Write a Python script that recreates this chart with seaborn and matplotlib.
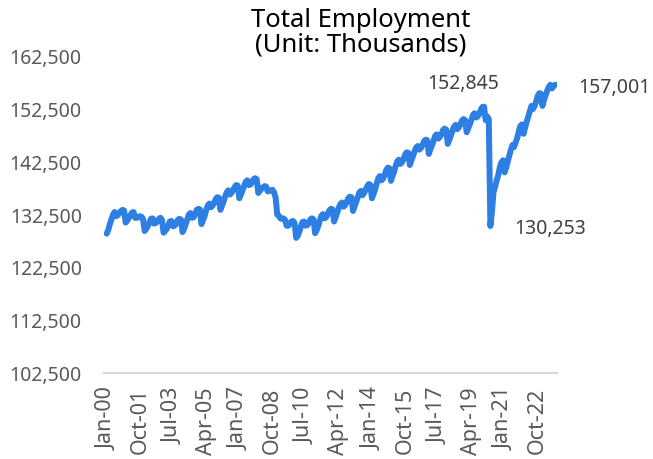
import pandas as pd
import seaborn as sns
from matplotlib import pyplot as plt

# Total nonfarm employment, not seasonally adjusted (thousands), Jan 2000 - Sep 2023
emp_2000 = [128800, 129500, 130600, 131500, 132400, 132900, 132100, 132300, 132700, 133100, 133300, 133200]
emp_2001 = [130900, 131300, 131800, 132300, 132800, 132900, 131800, 131800, 131900, 132100, 132000, 131600]
emp_2002 = [129300, 129700, 130200, 130900, 131600, 131700, 130700, 130800, 131100, 131600, 131800, 131400]
emp_2003 = [129000, 129300, 129700, 130400, 131100, 131200, 130200, 130300, 130700, 131400, 131600, 131500]
emp_2004 = [129100, 129700, 130600, 131500, 132400, 132700, 131800, 131900, 132500, 133300, 133500, 133400]
emp_2005 = [130600, 131400, 132100, 133300, 134100, 134500, 133800, 134100, 134600, 135300, 135700, 135600]
emp_2006 = [133300, 134100, 134900, 135800, 136600, 137000, 136200, 136500, 137000, 137600, 138000, 137900]
emp_2007 = [135500, 136200, 137000, 137800, 138600, 138900, 138000, 138100, 138500, 139100, 139300, 139100]
emp_2008 = [136500, 136900, 137300, 137600, 137800, 137700, 136800, 136900, 137000, 137100, 136600, 135600]
emp_2009 = [132400, 132200, 131700, 131600, 131700, 131400, 130300, 130300, 130600, 131100, 131200, 130800]
emp_2010 = [128000, 128400, 129200, 130200, 131000, 131100, 130300, 130400, 130800, 131500, 131700, 131500]
emp_2011 = [128900, 129500, 130300, 131300, 132200, 132500, 131700, 131900, 132500, 133200, 133500, 133400]
emp_2012 = [131100, 131900, 132800, 133700, 134400, 134700, 133900, 134200, 134800, 135500, 135800, 135700]
emp_2013 = [133100, 134000, 134800, 135700, 136600, 136900, 136100, 136500, 137100, 137800, 138200, 138000]
emp_2014 = [135500, 136300, 137200, 138300, 139300, 139700, 138900, 139200, 139900, 140800, 141300, 141200]
emp_2015 = [138800, 139700, 140500, 141600, 142500, 142800, 142000, 142300, 142900, 143800, 144200, 144100]
emp_2016 = [141800, 142700, 143500, 144400, 145100, 145400, 144700, 145000, 145600, 146300, 146600, 146500]
emp_2017 = [143900, 144800, 145500, 146400, 147300, 147600, 146800, 147100, 147600, 148400, 148700, 148500]
emp_2018 = [145800, 146600, 147400, 148300, 149100, 149400, 148600, 148900, 149500, 150200, 150500, 150300]
emp_2019 = [148000, 148800, 149500, 150400, 151300, 151600, 150800, 151000, 151500, 152300, 152800, 152845]
emp_2020 = [150300, 151000, 150500, 130253, 133000, 136700, 137700, 138900, 139900, 141400, 142300, 142700]
emp_2021 = [140400, 141300, 142500, 143600, 144700, 145600, 145200, 146100, 146900, 148200, 149200, 149500]
emp_2022 = [147700, 148900, 150000, 151000, 152000, 153000, 152400, 153000, 153800, 154900, 155400, 155300]
emp_2023 = [153000, 154200, 155000, 155900, 156600, 157000, 156300, 156700, 157001]

tick_labels = ["Jan-00", "Oct-01", "Jul-03", "Apr-05", "Jan-07", "Oct-08", "Jul-10",
               "Apr-12", "Jan-14", "Oct-15", "Jul-17", "Apr-19", "Jan-21", "Oct-22"]
y_ticks = [102500, 112500, 122500, 132500, 142500, 152500, 162500]
title_lines = ["Total Employment", "(Unit: Thousands)"]

employment = (emp_2000 + emp_2001 + emp_2002 + emp_2003 + emp_2004 + emp_2005 + emp_2006
              + emp_2007 + emp_2008 + emp_2009 + emp_2010 + emp_2011 + emp_2012 + emp_2013
              + emp_2014 + emp_2015 + emp_2016 + emp_2017 + emp_2018 + emp_2019 + emp_2020
              + emp_2021 + emp_2022 + emp_2023)
months = pd.date_range("2000-01-01", periods=len(employment), freq="MS")
df = pd.DataFrame({
    "month": months.strftime("%b-%y"),
    "date": months,
    "pos": range(len(employment)),
    "employment": employment,
})

sns.set_theme(style="white")
plt.rcParams["font.family"] = ["Noto Sans", "DejaVu Sans"]

fig = plt.figure(figsize=(6.53, 4.6), dpi=100)
ax = fig.add_axes([0.1593, 0.188, 0.6937, 0.6887])

line_color = "#2E7FE3"
sns.lineplot(data=df, x="pos", y="employment", ax=ax, color=line_color,
             linewidth=4.3, solid_capstyle="round", solid_joinstyle="round")

ax.set_xlim(-1.7, len(df) + 0.2)
ax.set_ylim(y_ticks[0], y_ticks[-1])
ax.set_xlabel("")
ax.set_ylabel("")

tick_pos = df.loc[df["month"].isin(tick_labels), "pos"].tolist()
ax.set_xticks(tick_pos)
ax.set_xticklabels(tick_labels, rotation=90, fontsize=15.5, color="#595959")
ax.set_yticks(y_ticks)
ax.set_yticklabels([f"{v:,}" for v in y_ticks], fontsize=14, color="#595959")
ax.tick_params(axis="x", length=0, pad=10)
ax.tick_params(axis="y", length=0, pad=16)

for side in ["left", "top", "right"]:
    ax.spines[side].set_visible(False)
ax.spines["bottom"].set_color("#d9d9d9")
ax.spines["bottom"].set_linewidth(1.6)

# labels for pre-covid peak, covid trough, latest value
pre = df[df["date"] < "2020-01-01"]
peak = df.loc[pre["employment"].idxmax()]
covid = df[df["date"].dt.year == 2020]
trough = df.loc[covid["employment"].idxmin()]
last = df.iloc[-1]

label_kw = dict(textcoords="offset points", ha="center", va="center",
                fontsize=14, color="#404040")
ax.annotate(f"{peak['employment']:,}", xy=(peak["pos"], peak["employment"]),
            xytext=(-15, 17), **label_kw)
ax.annotate(f"{trough['employment']:,}", xy=(trough["pos"], trough["employment"]),
            xytext=(43, -1.5), **label_kw)
ax.annotate(f"{last['employment']:,}", xy=(last["pos"], last["employment"]),
            xytext=(42.5, -1.7), **label_kw)

fig.text(0.553, 0.9407, title_lines[0], ha="center", va="baseline",
         fontsize=18.5, color="black")
fig.text(0.553, 0.8876, title_lines[1], ha="center", va="baseline",
         fontsize=18.5, color="black")

fig.savefig("out.png", dpi=100)
